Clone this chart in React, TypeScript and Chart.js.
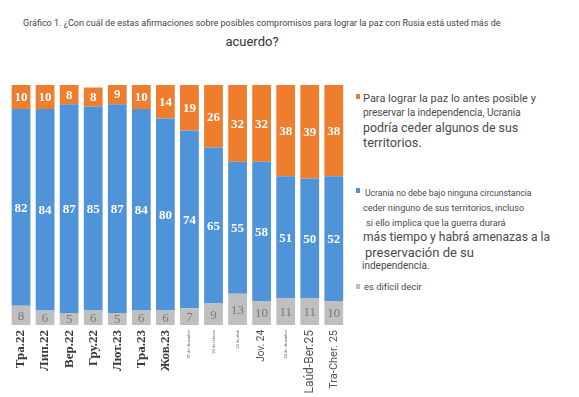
import React, { useEffect, useRef } from "react";
import { Chart, registerables } from "chart.js";

Chart.register(...registerables);

const categories = [
  "Тра.22", "Лип.22", "Вер.22", "Гру.22", "Лют.23", "Тра.23", "Жов.23",
  "31 de diciembre", "24 de febrero", "24 de abril", "Jov. 24", "24 de diciembre",
  "Laúd-Ber.25", "Tra-Cher. 25",
];
const difficultValues = [8, 6, 5, 6, 5, 6, 6, 7, 9, 13, 10, 11, 11, 10];
const noCedeValues = [82, 84, 87, 85, 87, 84, 80, 74, 65, 55, 58, 51, 50, 52];
const cedeValues = [10, 10, 8, 8, 9, 10, 14, 19, 26, 32, 32, 38, 39, 38];

const seriesNames = [
  "es difícil decir",
  "Ucrania no debe bajo ninguna circunstancia ceder ninguno de sus territorios, incluso si ello implica que la guerra durará más tiempo y habrá amenazas a la preservación de su independencia.",
  "Para lograr la paz lo antes posible y preservar la independencia, Ucrania podría ceder algunos de sus territorios.",
];

const COLORS = ["#bfbfbf", "#4f93d8", "#ef7d2e"];

const tickStyle = (i: number) => {
  const l = categories[i];
  if (/^[А-ЯҐЄІЇа-яґєії]/.test(l)) return { font: { family: "Liberation Serif", size: 13, weight: "bold" as const }, color: "#3a3a3a" };
  if (l.startsWith("24 de") || l.startsWith("31 de")) return { font: { family: "Roboto", size: 4 }, color: "#666" };
  if (l === "Jov. 24") return { font: { family: "Roboto", size: 10 }, color: "#555" };
  if (l === "Laúd-Ber.25") return { font: { family: "Roboto", size: 12 }, color: "#555" };
  return { font: { family: "Roboto", size: 11 }, color: "#555" };
};

const valueLabels = {
  id: "valueLabels",
  afterDatasetsDraw(chart: any) {
    const ctx = chart.ctx;
    ctx.save();
    ctx.textAlign = "center";
    ctx.textBaseline = "middle";
    chart.data.datasets.forEach((ds: any, di: number) => {
      const meta = chart.getDatasetMeta(di);
      meta.data.forEach((bar: any, j: number) => {
        const p = bar.getProps(["x", "y", "base"], true);
        if (di === 0) {
          ctx.font = "13px 'Liberation Serif'";
          ctx.fillStyle = "#7a7a7a";
        } else {
          ctx.font = "bold 13px 'Liberation Serif'";
          ctx.fillStyle = "#ffffff";
        }
        ctx.fillText(String(ds.data[j]), p.x, (p.y + p.base) / 2 + 1);
      });
    });
    ctx.restore();
  },
};

const legendLines: { t: string; y: number; s: number; x?: number }[] = [
  { t: "Para lograr la paz lo antes posible y", y: 99, s: 11 },
  { t: "preservar la independencia, Ucrania", y: 113, s: 10 },
  { t: "podría ceder algunos de sus", y: 128, s: 12.4 },
  { t: "territorios.", y: 143, s: 12.8 },
  { t: "Ucrania no debe bajo ninguna circunstancia", y: 193, s: 8.6, x: 365 },
  { t: "ceder ninguno de sus territorios, incluso", y: 208, s: 9.1 },
  { t: "si ello implica que la guerra durará", y: 223, s: 9.2, x: 366 },
  { t: "más tiempo y habrá amenazas a la", y: 237, s: 12.1 },
  { t: "preservación de su", y: 253, s: 13, x: 365 },
  { t: "independencia.", y: 266, s: 10, x: 362 },
  { t: "es difícil decir", y: 287, s: 9.4, x: 364 },
];

const legendSquares = [
  { y: 94, c: COLORS[2] },
  { y: 188, c: COLORS[1] },
  { y: 284, c: COLORS[0] },
];

export default function App() {
  const ref = useRef<HTMLCanvasElement | null>(null);
  useEffect(() => {
    document.body.style.margin = "0";
    const chart = new Chart(ref.current!, {
      type: "bar",
      data: {
        labels: categories,
        datasets: [
          { label: seriesNames[0], data: difficultValues, backgroundColor: COLORS[0] },
          { label: seriesNames[1], data: noCedeValues, backgroundColor: COLORS[1] },
          { label: seriesNames[2], data: cedeValues, backgroundColor: COLORS[2] },
        ],
      },
      options: {
        responsive: false,
        animation: false,
        barPercentage: 0.78,
        categoryPercentage: 1,
        layout: { padding: { left: 9, right: 0, top: 5, bottom: 0 } },
        plugins: { legend: { display: false }, tooltip: { enabled: false }, title: { display: false } },
        scales: {
          x: {
            stacked: true,
            grid: { display: false, drawTicks: false },
            border: { display: false },
            afterFit: (scale: any) => { scale.height = 72; },
            ticks: {
              autoSkip: false,
              minRotation: 90,
              maxRotation: 90,
              padding: 5,
              font: (c: any) => tickStyle(c.index).font,
              color: (c: any) => tickStyle(c.index).color,
            },
          },
          y: {
            stacked: true,
            display: false,
            min: 0,
            max: 100,
          },
        },
      } as any,
      plugins: [valueLabels],
    });
    return () => chart.destroy();
  }, []);

  return (
    <div style={{ position: "absolute", left: 0, top: 0, width: 579, height: 397, background: "#fff", overflow: "hidden", fontFamily: "Roboto, sans-serif" }}>
      <div style={{ position: "absolute", left: 23, top: 16, fontSize: 9.0, color: "#444", lineHeight: "14px", whiteSpace: "nowrap" }}>
        Gráfico 1. ¿Con cuál de estas afirmaciones sobre posibles compromisos para lograr la paz con Rusia está usted más de
      </div>
      <div style={{ position: "absolute", left: 0, width: 504, top: 33, textAlign: "center", fontSize: 13, color: "#333", lineHeight: "18px" }}>
        acuerdo?
      </div>
      <canvas ref={ref} width={352} height={317} style={{ position: "absolute", left: 0, top: 80 }} />
      {legendSquares.map((q, i) => (
        <div key={i} style={{ position: "absolute", left: 356, top: q.y, width: 4, height: 5, background: q.c }} />
      ))}
      {legendLines.map((l, i) => (
        <div key={i} style={{ position: "absolute", left: l.x ?? 363, top: l.y - 8, height: 16, lineHeight: "16px", fontSize: l.s, color: "#4a4a4a", whiteSpace: "nowrap" }}>
          {l.t}
        </div>
      ))}
    </div>
  );
}
